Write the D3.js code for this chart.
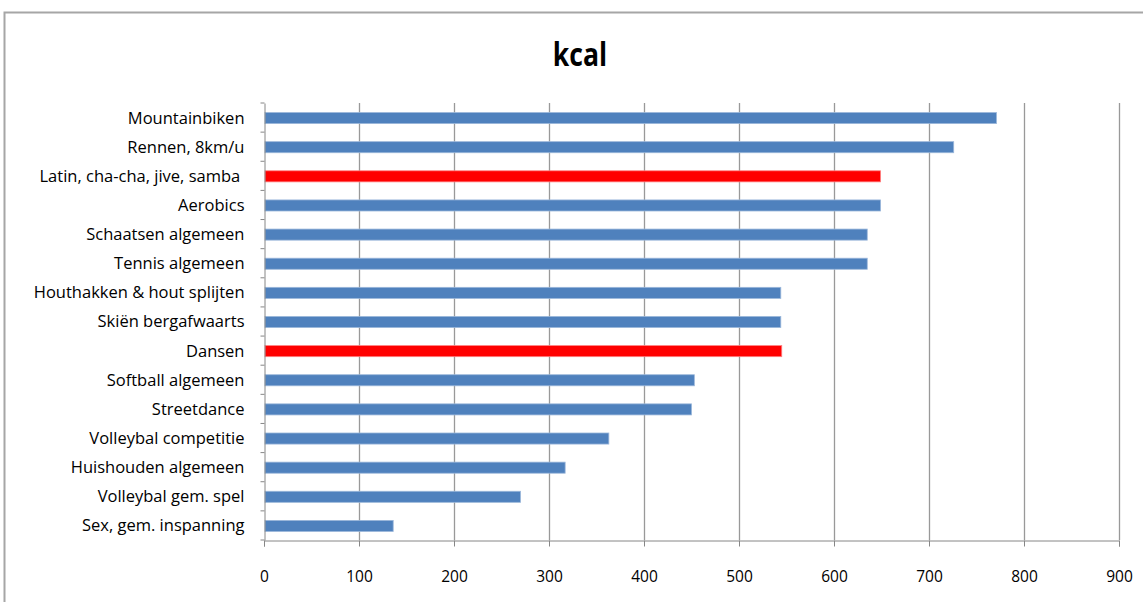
<!DOCTYPE html>
<html><head><meta charset="utf-8">
<script src="https://cdn.jsdelivr.net/npm/d3@7"></script>
<style>body{margin:0;background:#fff;}svg{display:block;}</style>
</head><body><svg id="c" width="1143" height="602"></svg>
<script>
const categories = ["Mountainbiken","Rennen, 8km/u","Latin, cha-cha, jive, samba ","Aerobics","Schaatsen algemeen","Tennis algemeen","Houthakken & hout splijten","Skiën bergafwaarts","Dansen","Softball algemeen","Streetdance","Volleybal competitie","Huishouden algemeen","Volleybal gem. spel","Sex, gem. inspanning"];
const values = [771,726,649,649,635,635,544,544,545,453,450,363,317,270,136];
const highlighted = ["Latin, cha-cha, jive, samba ","Dansen"];
const xTicks = [0,100,200,300,400,500,600,700,800,900];
const title = "kcal";

(function(){
const svg = d3.select("#c");
const pL = 264, pR = 1119, pT = 103, pB = 540;
const font = "'Open Sans', sans-serif";

// outer frame
svg.append("path").attr("d","M4.5,602 V12.5 H1143").attr("fill","none").attr("stroke","#a6a6a6").attr("stroke-width",2);

svg.append("text").attr("x",580).attr("y",66).attr("text-anchor","middle")
  .attr("font-family",font).attr("font-weight","bold").attr("font-size",28).attr("fill","#000")
  .attr("transform","translate(580,66) scale(0.95,1.12) translate(-580,-66)").text(title);

const x = d3.scaleLinear().domain([0,900]).range([pL,pR]);
const y = d3.scaleBand().domain(categories).range([pT,pB]).paddingInner(0.62).paddingOuter(0.31);

// gridlines
svg.append("g").selectAll("line").data(xTicks.slice(1)).join("line")
  .attr("x1",d=>x(d)+0.5).attr("x2",d=>x(d)+0.5).attr("y1",pT).attr("y2",pB)
  .attr("stroke","#999999").attr("stroke-width",1.3);

// bars
svg.append("g").selectAll("rect").data(categories).join("rect")
  .attr("x",x(0)+1).attr("y",d=>y(d)+0.5)
  .attr("width",(d,i)=>x(values[i])-x(0)-1).attr("height",y.bandwidth())
  .attr("fill",d=>highlighted.includes(d)?"#ff0000":"#4f81bd")
  .attr("stroke",d=>highlighted.includes(d)?"#ff8080":"#9bb7da").attr("stroke-width",0.8);

// x axis
const xa = svg.append("g").attr("transform",`translate(0,${pB+0.5})`)
  .call(d3.axisBottom(x).tickValues(xTicks).tickSize(6).tickPadding(24).tickFormat(d3.format("d")));
xa.select(".domain").attr("stroke","#868686");
xa.selectAll(".tick line").attr("stroke","#868686");
xa.selectAll("text").attr("font-family",font).attr("font-size",15.5).attr("fill","#000");

// y axis
const ya = svg.append("g").attr("transform",`translate(${pL+0.5},0)`)
  .call(d3.axisLeft(y).tickSize(0).tickPadding(20));
ya.select(".domain").attr("stroke","#868686");
ya.selectAll("text").attr("font-family",font).attr("font-size",16.5).attr("fill","#000")
  .style("white-space","pre").attr("x",-20).attr("dy","0.36em");
const bounds = d3.range(categories.length+1).map(i=>pT + i*(pB-pT)/categories.length);
ya.append("g").selectAll("line").data(bounds).join("line")
  .attr("x1",-4).attr("x2",0).attr("y1",d=>d).attr("y2",d=>d).attr("stroke","#868686");
})();
</script></body></html>
